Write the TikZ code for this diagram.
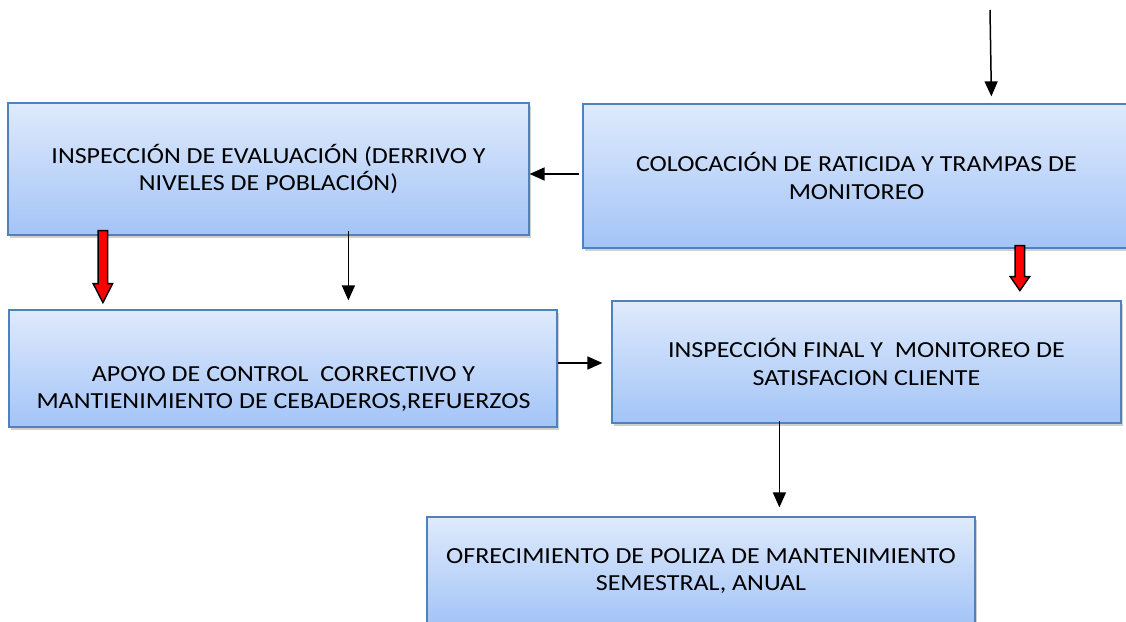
\documentclass[tikz,border=0pt]{standalone}
\usepackage{fontspec}
\setmainfont{Carlito}[FakeStretch=1.13]
\usetikzlibrary{arrows.meta,shadows,calc}
\definecolor{boxtop}{RGB}{223,234,252}
\definecolor{boxbot}{RGB}{163,196,247}
\definecolor{boxborder}{RGB}{79,129,189}
\begin{document}
\begin{tikzpicture}[x=1pt,y=1pt,
  box/.style={draw=boxborder, line width=1.2pt, top color=boxtop, bottom color=boxbot,
    drop shadow={shadow xshift=1.5pt, shadow yshift=-3pt, fill=black!30, opacity=0.6},
    inner sep=0pt, align=center, font=\fontsize{23}{27.5}\selectfont},
  txt/.style={align=center, inner sep=0pt, font=\fontsize{23}{27.5}\selectfont},
  arr/.style={line width=1.5pt, -{Triangle[length=15pt,width=13pt]}},
  redarr/.style={draw=black, fill=red, line width=1.4pt, line join=miter},
  pics/redarrow/.style 2 args={code={
    \draw[redarr] (-4.75,0) -- (-4.75,-#1+#2) -- (-9.75,-#1+#2) -- (0,-#1) -- (9.75,-#1+#2) -- (4.75,-#1+#2) -- (4.75,0) -- cycle;}}
]
\useasboundingbox[fill=white] (0,0) rectangle (1126,621);

\node[box, minimum width=521pt, minimum height=132pt] (A) at (268.5,452)
  {INSPECCIÓN DE EVALUACIÓN (DERRIVO Y\\NIVELES DE POBLACIÓN)};
\node[box, minimum width=547pt, minimum height=144pt] (B) at (856.5,445)
  {COLOCACIÓN DE RATICIDA Y TRAMPAS DE\\MONITOREO};
\node[box, minimum width=548pt, minimum height=117pt] (C) at (283,252.5) {};
\node[txt] (ctxt) at (283.5,232)
  {APOYO DE CONTROL\ \ CORRECTIVO Y\\MANTIENIMIENTO DE CEBADEROS,REFUERZOS};
\node[box, minimum width=509pt, minimum height=122pt] (D) at (866.5,259)
  {INSPECCIÓN FINAL Y\ \ MONITOREO DE\\SATISFACION CLIENTE};
\node[box, minimum width=548pt, minimum height=108pt] (E) at (701,50)
  {OFRECIMIENTO DE POLIZA DE MANTENIMIENTO\\SEMESTRAL, ANUAL};

\coordinate (start) at (990,611);
\draw[arr] (start) -- ($(B.north west)+(409,7)$);
\draw[arr] ($(B.west)+(-3,2)$) -- ($(A.east)+(0,-5)$);
\draw[arr] ($(A.south west)+(341,5)$) -- ($(C.north west)+(340,9)$);
\draw[arr] ($(C.east)+(0,5.5)$) -- ($(D.west)+(-9,-1)$);
\draw[arr] ($(D.south west)+(168,3)$) -- ($(E.north west)+(353,9)$);

\coordinate (ra) at ($(A.south west)+(95.5,5)$);
\pic at (ra) {redarrow={72}{19}};
\coordinate (rb) at ($(B.south west)+(437.5,3)$);
\pic at (rb) {redarrow={45}{14}};
\end{tikzpicture}
\end{document}
